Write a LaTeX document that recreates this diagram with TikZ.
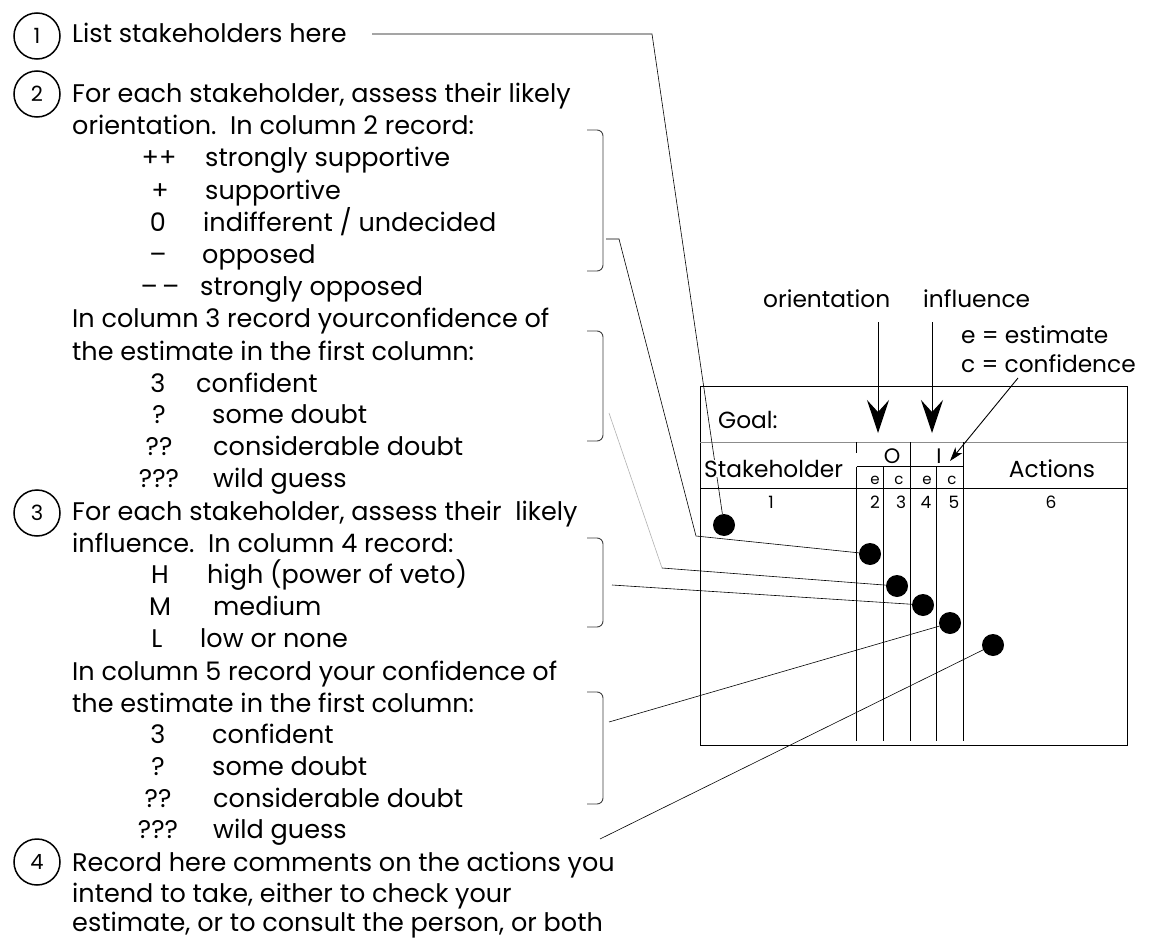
\documentclass[tikz,border=0pt]{standalone}
\usepackage{fontspec}
\setmainfont{Poppins}
\usetikzlibrary{arrows.meta}

\begin{document}
\begin{tikzpicture}[x=1pt,y=-1pt,
  txt/.style={anchor=base west,inner sep=0pt,font={\fontsize{25.5}{30}\selectfont}},
  sym/.style={anchor=base,inner sep=0pt,font={\fontsize{25.5}{30}\selectfont}},
  lbl/.style={anchor=base west,inner sep=0pt,font={\fontsize{23.3}{28}\selectfont}},
  hdr/.style={anchor=base,inner sep=0pt,font={\fontsize{21}{24}\selectfont}},
  sub/.style={anchor=base,inner sep=0pt,font={\fontsize{15}{18}\selectfont}},
  colno/.style={anchor=base,inner sep=0pt,font={\fontsize{17}{20}\selectfont}},
  stepnum/.style={circle,draw,line width=1.5pt,minimum size=46pt,inner sep=0pt,font={\fontsize{21}{24}\selectfont}},
  dot/.style={circle,fill=black,minimum size=22pt,inner sep=0pt},
  lead/.style={line width=0.6pt},
  brk/.style={line width=0.9pt,black!75,rounded corners=6pt},
  rule/.style={line width=1pt},
]
\useasboundingbox (0,0) rectangle (1149,939);
\fill[white] (0,0) rectangle (1149,939);

% ---------- numbered steps ----------
\node[stepnum] (n1) at (37,36) {1};
\node[stepnum] (n2) at (37,94) {2};
\node[stepnum] (n3) at (37,513) {3};
\node[stepnum] (n4) at (37,862) {4};

% ---------- instructions ----------
\node[txt] (t1) at (72,43) {List stakeholders here};
\node[txt] (t2) at (72,103) {For each stakeholder, assess their likely};
\node[txt] (t3) at (72,135) {orientation.\ \ In column 2 record:};
\node[sym] (sa1) at (159,167) {++};  \node[txt] (da1) at (205,167) {strongly supportive};
\node[sym] (sa2) at (160,199) {+};   \node[txt] (da2) at (205,199) {supportive};
\node[sym] (sa3) at (158,231) {0};   \node[txt] (da3) at (203,231) {indifferent / undecided};
\node[sym] (sa4) at (158,263) {–};   \node[txt] (da4) at (202,263) {opposed};
\node[sym] (sa5) at (160,295) {–\,–}; \node[txt] (da5) at (200,295) {strongly opposed};
\node[txt] (t4) at (72,327) {In column 3 record yourconfidence of};
\node[txt] (t5) at (72,360) {the estimate in the first column:};
\node[sym] (sb1) at (158,392) {3};   \node[txt] (db1) at (196,392) {confident};
\node[sym] (sb2) at (159,423) {?};   \node[txt] (db2) at (212,423) {some doubt};
\node[sym] (sb3) at (159,455) {??};  \node[txt] (db3) at (213,455) {considerable doubt};
\node[sym] (sb4) at (159,487) {???}; \node[txt] (db4) at (213,487) {wild guess};
\node[txt] (t6) at (72,520) {For each stakeholder, assess their\ \ likely};
\node[txt] (t7) at (72,552) {influence.\ \ In column 4 record:};
\node[sym] (sc1) at (160,583) {H};   \node[txt] (dc1) at (207,583) {high (power of veto)};
\node[sym] (sc2) at (160,615) {M};   \node[txt] (dc2) at (213,615) {medium};
\node[sym] (sc3) at (157,647) {L};   \node[txt] (dc3) at (200,647) {low or none};
\node[txt] (t8) at (72,680) {In column 5 record your confidence of};
\node[txt] (t9) at (72,712) {the estimate in the first column:};
\node[sym] (sd1) at (158,743) {3};   \node[txt] (dd1) at (212,743) {confident};
\node[sym] (sd2) at (158,775) {?};   \node[txt] (dd2) at (212,775) {some doubt};
\node[sym] (sd3) at (158,807) {??};  \node[txt] (dd3) at (213,807) {considerable doubt};
\node[sym] (sd4) at (158,838) {???}; \node[txt] (dd4) at (213,838) {wild guess};
\node[txt] (t10) at (72,871) {Record here comments on the actions you};
\node[txt] (t11) at (72,902) {intend to take, either to check your};
\node[txt] (t12) at (72,931) {estimate, or to consult the person, or both};

% ---------- brackets grouping the codes ----------
\draw[brk] (587,130) -- (603,130) -- (603,271) -- (587,271);
\draw[brk] (587,331) -- (603,331) -- (603,441) -- (587,441);
\draw[brk] (587,538) -- (603,538) -- (603,627) -- (587,627);
\draw[brk] (587,692) -- (603,692) -- (603,804) -- (587,804);

% ---------- the record sheet ----------
\draw[rule] (700,386) rectangle (1127,745);
\draw[line width=0.8pt,black!45] (700,442) -- (1127,442);
\draw[rule] (700,488) -- (1127,488);
\draw[rule] (856.7,466.7) -- (963.3,466.7);
\draw[rule] (856.7,442) -- (856.7,453);
\draw[rule] (856.7,466.7) -- (856.7,741);
\draw[rule] (883.3,466.7) -- (883.3,741);
\draw[rule] (910,442) -- (910,741);
\draw[rule] (936.7,466.7) -- (936.7,741);
\draw[rule] (963.3,442) -- (963.3,741);

\node[lbl] (goal) at (718,428) {Goal:};
\node[hdr] (hO) at (892,463) {O};
\node[hdr] (hI) at (939,463) {I};
\node[sub] (e2) at (875,484) {e};
\node[sub] (c3) at (899,484) {c};
\node[sub] (e4) at (927,484) {e};
\node[sub] (c5) at (952,484) {c};
\node[colno] (k1) at (771,508) {1};
\node[colno] (k2) at (875,508) {2};
\node[colno] (k3) at (901,508) {3};
\node[colno] (k4) at (926,508) {4};
\node[colno] (k5) at (954,508) {5};
\node[colno] (k6) at (1051,508) {6};
\node[lbl,anchor=base] (act) at (1052,477) {Actions};

% ---------- sample entries ----------
\node[dot] (p1) at (724,525) {};
\node[dot] (p2) at (870,554) {};
\node[dot] (p3) at (897,586) {};
\node[dot] (p4) at (923,605) {};
\node[dot] (p5) at (950,623) {};
\node[dot] (p6) at (993,645) {};

% ---------- leaders from the instructions to the sheet ----------
\coordinate (q1a) at (372,34);
\coordinate (q1b) at (652,34);
\draw[lead] (q1a) -- (q1b) -- (p1);

\coordinate (q2a) at (606,239);
\coordinate (q2b) at (619,239);
\coordinate (q2c) at (696,536);
\draw[lead] (q2a) -- (q2b) -- (q2c) -- (p2);

\coordinate (q3a) at (609,413);
\coordinate (q3b) at (662,568);
\draw[lead,black!30] (q3a) -- (q3b);
\draw[lead] (q3b) -- (p3);

\coordinate (q4a) at (612,585);
\draw[lead] (q4a) -- (p4);

\coordinate (q5a) at (609,722);
\draw[lead] (q5a) -- (p5);

\coordinate (q6a) at (600,839);
\draw[lead] (q6a) -- (p6);

\node[lbl,fill=white] (stk) at (704,477) {Stakeholder};

% ---------- column legends ----------
\node[lbl] (lo) at (763,307) {orientation};
\node[lbl] (li) at (923,307) {influence};
\node[lbl] (le) at (961,343) {e = estimate};
\node[lbl] (lc) at (961,372) {c = confidence};

\coordinate (ao1) at (878,322);
\coordinate (ao2) at (878,433);
\coordinate (ai1) at (932,322);
\coordinate (ai2) at (932,433);
\coordinate (ac1) at (1018,378);
\coordinate (ac2) at (950,461);
\draw[line width=1pt,-{Stealth[length=33pt,width=22pt,inset=12pt]}] (ao1) -- (ao2);
\draw[line width=1pt,-{Stealth[length=33pt,width=22pt,inset=12pt]}] (ai1) -- (ai2);
\draw[line width=0.9pt,-{Stealth[length=14pt,width=9pt,inset=4pt]}] (ac1) -- (ac2);
\end{tikzpicture}
\end{document}
